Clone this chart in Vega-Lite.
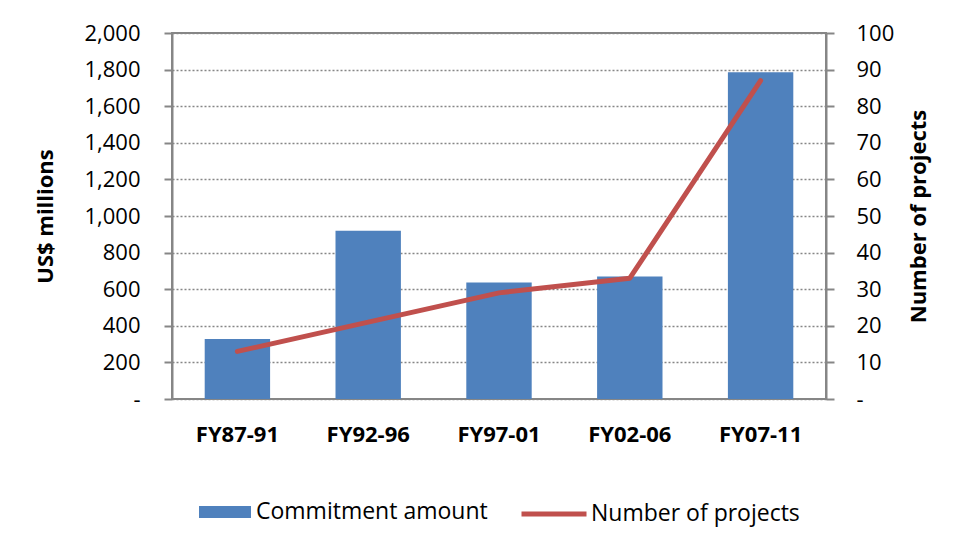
{
  "$schema": "https://vega.github.io/schema/vega-lite/v6.json",
  "width": 654,
  "height": 366,
  "autosize": {"type": "none"},
  "padding": {"left": 172, "top": 33, "right": 147, "bottom": 153},
  "background": "white",
  "data": {
    "values": [
      {"period": "FY87-91", "series": "Commitment amount", "value": 328},
      {"period": "FY92-96", "series": "Commitment amount", "value": 920},
      {"period": "FY97-01", "series": "Commitment amount", "value": 637},
      {"period": "FY02-06", "series": "Commitment amount", "value": 670},
      {"period": "FY07-11", "series": "Commitment amount", "value": 1785},
      {"period": "FY87-91", "series": "Number of projects", "value": 13},
      {"period": "FY92-96", "series": "Number of projects", "value": 21},
      {"period": "FY97-01", "series": "Number of projects", "value": 29},
      {"period": "FY02-06", "series": "Number of projects", "value": 33},
      {"period": "FY07-11", "series": "Number of projects", "value": 87}
    ]
  },
  "encoding": {
    "x": {
      "field": "period",
      "type": "nominal",
      "sort": null,
      "scale": {"paddingInner": 0.5, "paddingOuter": 0.25},
      "axis": {
        "title": null,
        "labelAngle": 0,
        "labelFontWeight": "bold",
        "labelFontSize": 22,
        "labelPadding": 25,
        "ticks": false,
        "domain": false,
        "grid": false
      }
    }
  },
  "layer": [
    {
      "transform": [{"filter": "datum.series == 'Commitment amount'"}],
      "mark": {"type": "bar"},
      "encoding": {
        "y": {
          "field": "value",
          "type": "quantitative",
          "scale": {"domain": [0, 2000], "nice": false},
          "axis": {
            "title": "US$ millions",
            "titleFontSize": 22,
            "titleFontWeight": "bold",
            "titlePadding": 26,
            "values": [0, 200, 400, 600, 800, 1000, 1200, 1400, 1600, 1800, 2000],
            "labelExpr": "datum.value == 0 ? '-' : format(datum.value, ',')",
            "labelFontSize": 22,
            "labelPadding": 24,
            "tickSize": 8,
            "grid": true
          }
        },
        "fill": {
          "field": "series",
          "type": "nominal",
          "scale": {"range": ["#4F81BD"]},
          "legend": {
            "title": null,
            "orient": "none",
            "legendX": 27,
            "legendY": 453,
            "padding": 0,
            "symbolType": "M-1,-0.23H1V0.23H-1Z",
            "symbolSize": 2704,
            "symbolStrokeWidth": 0,
            "labelFontSize": 23,
            "labelOffset": 5
          }
        }
      }
    },
    {
      "transform": [{"filter": "datum.series == 'Number of projects'"}],
      "mark": {"type": "line", "strokeWidth": 5, "strokeCap": "round", "strokeJoin": "round"},
      "encoding": {
        "y": {
          "field": "value",
          "type": "quantitative",
          "scale": {"domain": [0, 100], "nice": false},
          "axis": {
            "orient": "right",
            "title": "Number of projects",
            "titleAngle": 270,
            "titleFontSize": 22,
            "titleFontWeight": "bold",
            "titlePadding": 37,
            "values": [0, 10, 20, 30, 40, 50, 60, 70, 80, 90, 100],
            "labelExpr": "datum.value == 0 ? '-' : format(datum.value, ',')",
            "labelFontSize": 22,
            "labelPadding": 22,
            "tickSize": 8,
            "grid": false
          }
        },
        "stroke": {
          "field": "series",
          "type": "nominal",
          "scale": {"range": ["#C0504D"]},
          "legend": {
            "title": null,
            "orient": "none",
            "legendX": 347,
            "legendY": 446,
            "padding": 0,
            "symbolType": "stroke",
            "symbolSize": 4225,
            "symbolStrokeWidth": 5,
            "labelFontSize": 23,
            "labelOffset": 2
          }
        }
      }
    }
  ],
  "resolve": {"scale": {"y": "independent"}},
  "config": {
    "font": "Open Sans",
    "view": {"stroke": "#868686", "strokeWidth": 2},
    "axis": {
      "labelColor": "#000000",
      "titleColor": "#000000",
      "labelFont": "Open Sans",
      "titleFont": "Open Sans",
      "domainColor": "#868686",
      "domainWidth": 2,
      "tickColor": "#868686",
      "tickWidth": 2,
      "gridColor": "#868686",
      "gridDash": [2, 2],
      "gridWidth": 1.3
    },
    "legend": {"labelColor": "#000000", "labelFont": "Open Sans", "labelLimit": 400}
  }
}
